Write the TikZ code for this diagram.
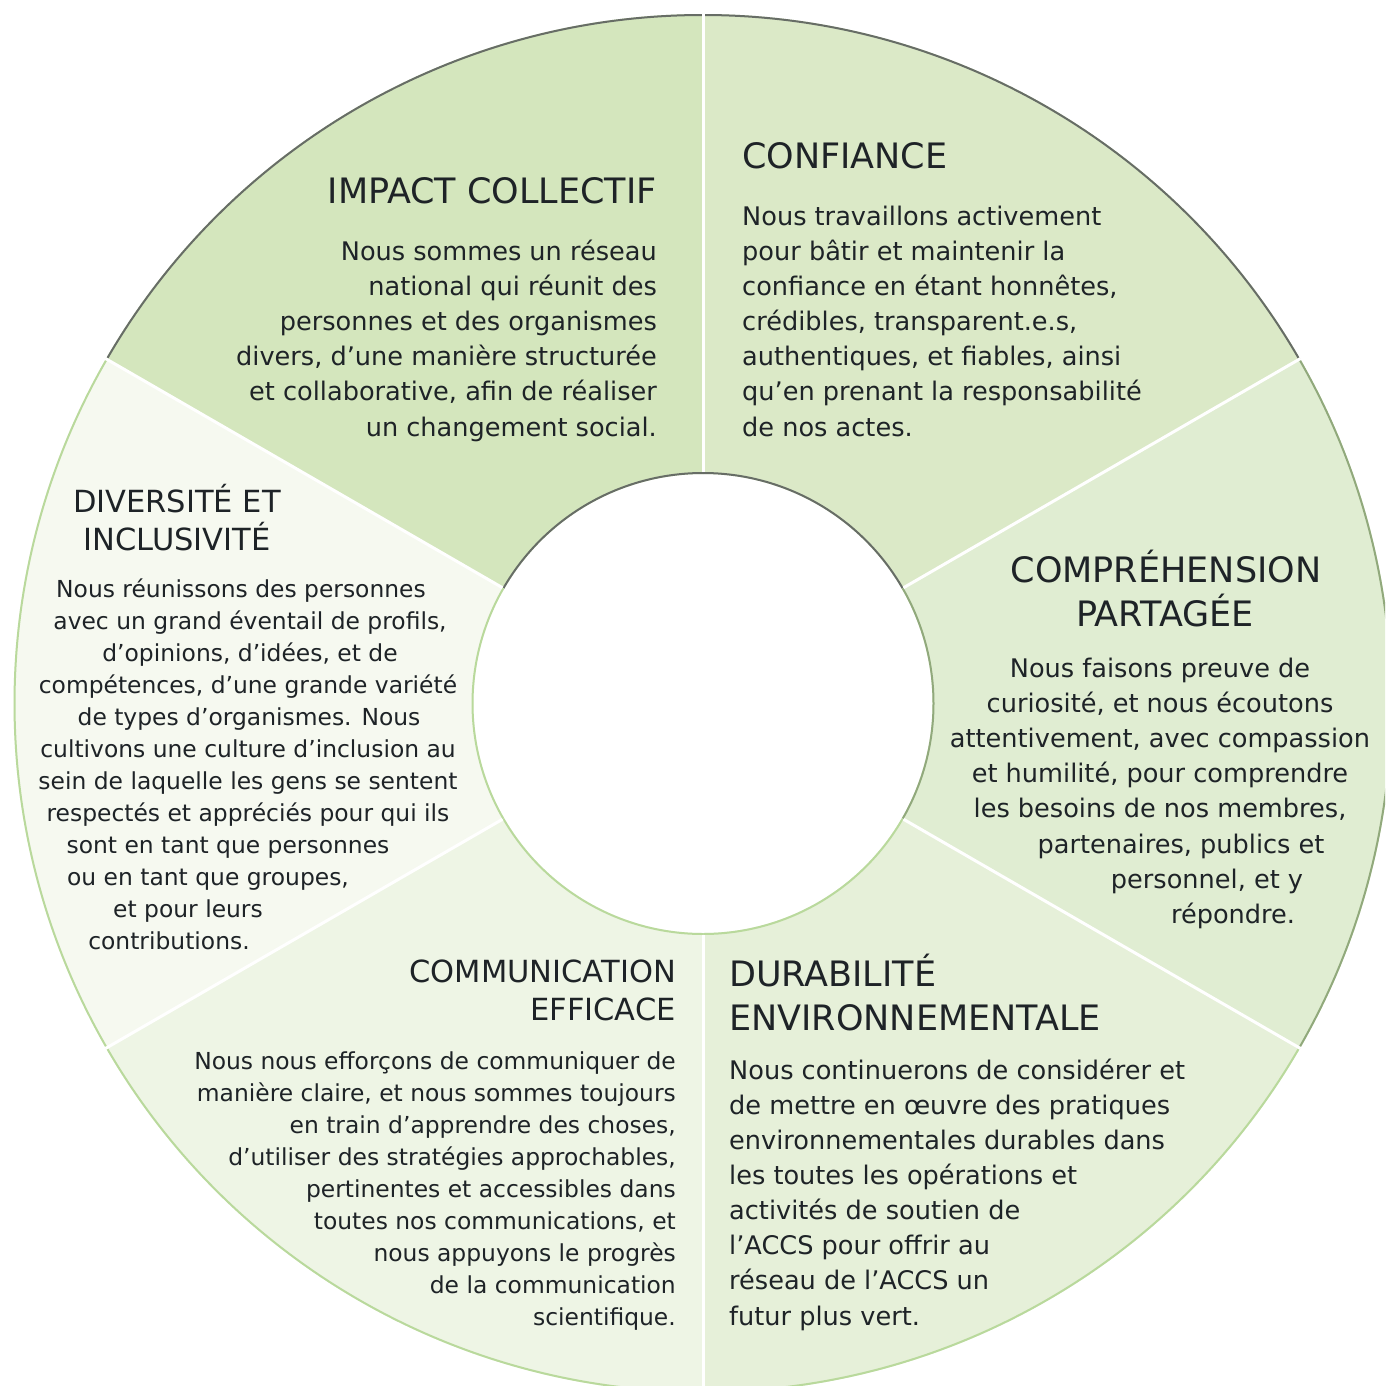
\documentclass[tikz,border=0pt]{standalone}
\usepackage{fontspec}
\setmainfont{DejaVu Sans}
\usetikzlibrary{calc}
\definecolor{cImp}{HTML}{D4E6BD}
\definecolor{cCon}{HTML}{DBE9C7}
\definecolor{cCom}{HTML}{E0EDD2}
\definecolor{cDur}{HTML}{E6F0D9}
\definecolor{cCmm}{HTML}{EEF5E5}
\definecolor{cDiv}{HTML}{F6F9F0}
\definecolor{bDark}{HTML}{676D66}
\definecolor{bMid}{HTML}{91A97C}
\definecolor{bLight}{HTML}{B9D99C}
\definecolor{txt}{HTML}{1E2327}
\tikzset{
  ttlA/.style={inner sep=0pt, text=txt, font=\fontsize{35}{42}\selectfont},
  ttlB/.style={inner sep=0pt, text=txt, font=\fontsize{30.5}{36}\selectfont},
  bodyA/.style={inner sep=0pt, text=txt, font=\fontsize{25.6}{35}\selectfont},
  bodyB/.style={inner sep=0pt, text=txt, font=\fontsize{23.4}{32}\selectfont},
  sep/.style={white, line width=3pt},
}
\begin{document}
\begin{tikzpicture}[x=1pt,y=-1pt]
\useasboundingbox (0,0) rectangle (1385,1386);
\clip (0,0) rectangle (1385,1386);
\coordinate (c) at (703,703.5);
% sectors
\foreach \a/\b/\fc/\bc in {210/270/cImp/bDark, 270/330/cCon/bDark, -30/30/cCom/bMid, 30/90/cDur/bLight, 90/150/cCmm/bLight, 150/210/cDiv/bLight}{
  \fill[\fc] ($(c)+(\a:689.5)$) arc[start angle=\a, end angle=\b, radius=689.5]
     -- ($(c)+(\b:229.5)$) arc[start angle=\b, end angle=\a, radius=229.5] -- cycle;
  \draw[\bc, line width=2pt] ($(c)+(\a:688.5)$) arc[start angle=\a, end angle=\b, radius=688.5];
  \draw[\bc, line width=2pt] ($(c)+(\a:230.5)$) arc[start angle=\a, end angle=\b, radius=230.5];
}
\foreach \t in {30,90,150,210,270,330}{
  \draw[sep] ($(c)+(\t:231.5)$) -- ($(c)+(\t:690)$);
}
% IMPACT COLLECTIF
\node[ttlA, anchor=base east] (impT) at (657,203) {IMPACT COLLECTIF};
\foreach \t/\y [count=\i] in {{Nous sommes un réseau}/260, {national qui réunit des}/295, {personnes et des organismes}/330, {divers, d’une manière structurée}/365, {et collaborative, afin de réaliser}/400, {un changement social.}/436}{
  \node[bodyA, anchor=base east] (imp\i) at (657,\y) {\t};
}
% CONFIANCE
\node[ttlA, anchor=base west] (conT) at (742,168) {CONFIANCE};
\foreach \t/\y [count=\i] in {{Nous travaillons activement}/225, {pour bâtir et maintenir la}/260, {confiance en étant honnêtes,}/295, {crédibles, transparent.e.s,}/330, {authentiques, et fiables, ainsi}/365, {qu’en prenant la responsabilité}/400, {de nos actes.}/436}{
  \node[bodyA, anchor=base west] (con\i) at (742,\y) {\t};
}
% COMPREHENSION PARTAGEE
\node[ttlA, anchor=base] (cmpT1) at (1166,582) {COMPRÉHENSION};
\node[ttlA, anchor=base] (cmpT2) at (1165,626) {PARTAGÉE};
\foreach \t/\x/\y [count=\i] in {{Nous faisons preuve de}/1160/677, {curiosité, et nous écoutons}/1160/712, {attentivement, avec compassion}/1160/747, {et humilité, pour comprendre}/1160/782, {les besoins de nos membres,}/1160/817, {partenaires, publics et}/1181/853, {personnel, et y}/1207/888, {répondre.}/1233/923}{
  \node[bodyA, anchor=base] (cmp\i) at (\x,\y) {\t};
}
% DURABILITE
\node[ttlA, anchor=base west] (durT1) at (729,986) {DURABILITÉ};
\node[ttlA, anchor=base west] (durT2) at (729,1030) {ENVIRONNEMENTALE};
\foreach \t/\y [count=\i] in {{Nous continuerons de considérer et}/1079, {de mettre en œuvre des pratiques}/1114, {environnementales durables dans}/1149, {les toutes les opérations et}/1184, {activités de soutien de}/1219, {l’ACCS pour offrir au}/1254, {réseau de l’ACCS un}/1289, {futur plus vert.}/1325}{
  \node[bodyA, anchor=base west] (dur\i) at (729,\y) {\t};
}
% COMMUNICATION EFFICACE
\node[ttlB, anchor=base east] (cmmT1) at (676,982) {COMMUNICATION};
\node[ttlB, anchor=base east] (cmmT2) at (676,1020) {EFFICACE};
\foreach \t/\y [count=\i] in {{Nous nous efforçons de communiquer de}/1069, {manière claire, et nous sommes toujours}/1101, {en train d’apprendre des choses,}/1133, {d’utiliser des stratégies approchables,}/1165, {pertinentes et accessibles dans}/1197, {toutes nos communications, et}/1229, {nous appuyons le progrès}/1261, {de la communication}/1293, {scientifique.}/1325}{
  \node[bodyB, anchor=base east] (cmm\i) at (676,\y) {\t};
}
% DIVERSITE ET INCLUSIVITE
\node[ttlB, anchor=base] (divT1) at (177,512) {DIVERSITÉ ET};
\node[ttlB, anchor=base] (divT2) at (177,550) {INCLUSIVITÉ};
\foreach \t/\x/\y [count=\i] in {{Nous réunissons des personnes}/241/597, {avec un grand éventail de profils,}/250/629, {d’opinions, d’idées, et de}/250/661, {compétences, d’une grande variété}/248/693, {de types d’organismes. Nous}/249/725, {cultivons une culture d’inclusion au}/248/757, {sein de laquelle les gens se sentent}/248/789, {respectés et appréciés pour qui ils}/248/821, {sont en tant que personnes}/228/853, {ou en tant que groupes,}/208/885, {et pour leurs}/188/917, {contributions.}/169/949}{
  \node[bodyB, anchor=base] (div\i) at (\x,\y) {\t};
}
\end{tikzpicture}
\end{document}
